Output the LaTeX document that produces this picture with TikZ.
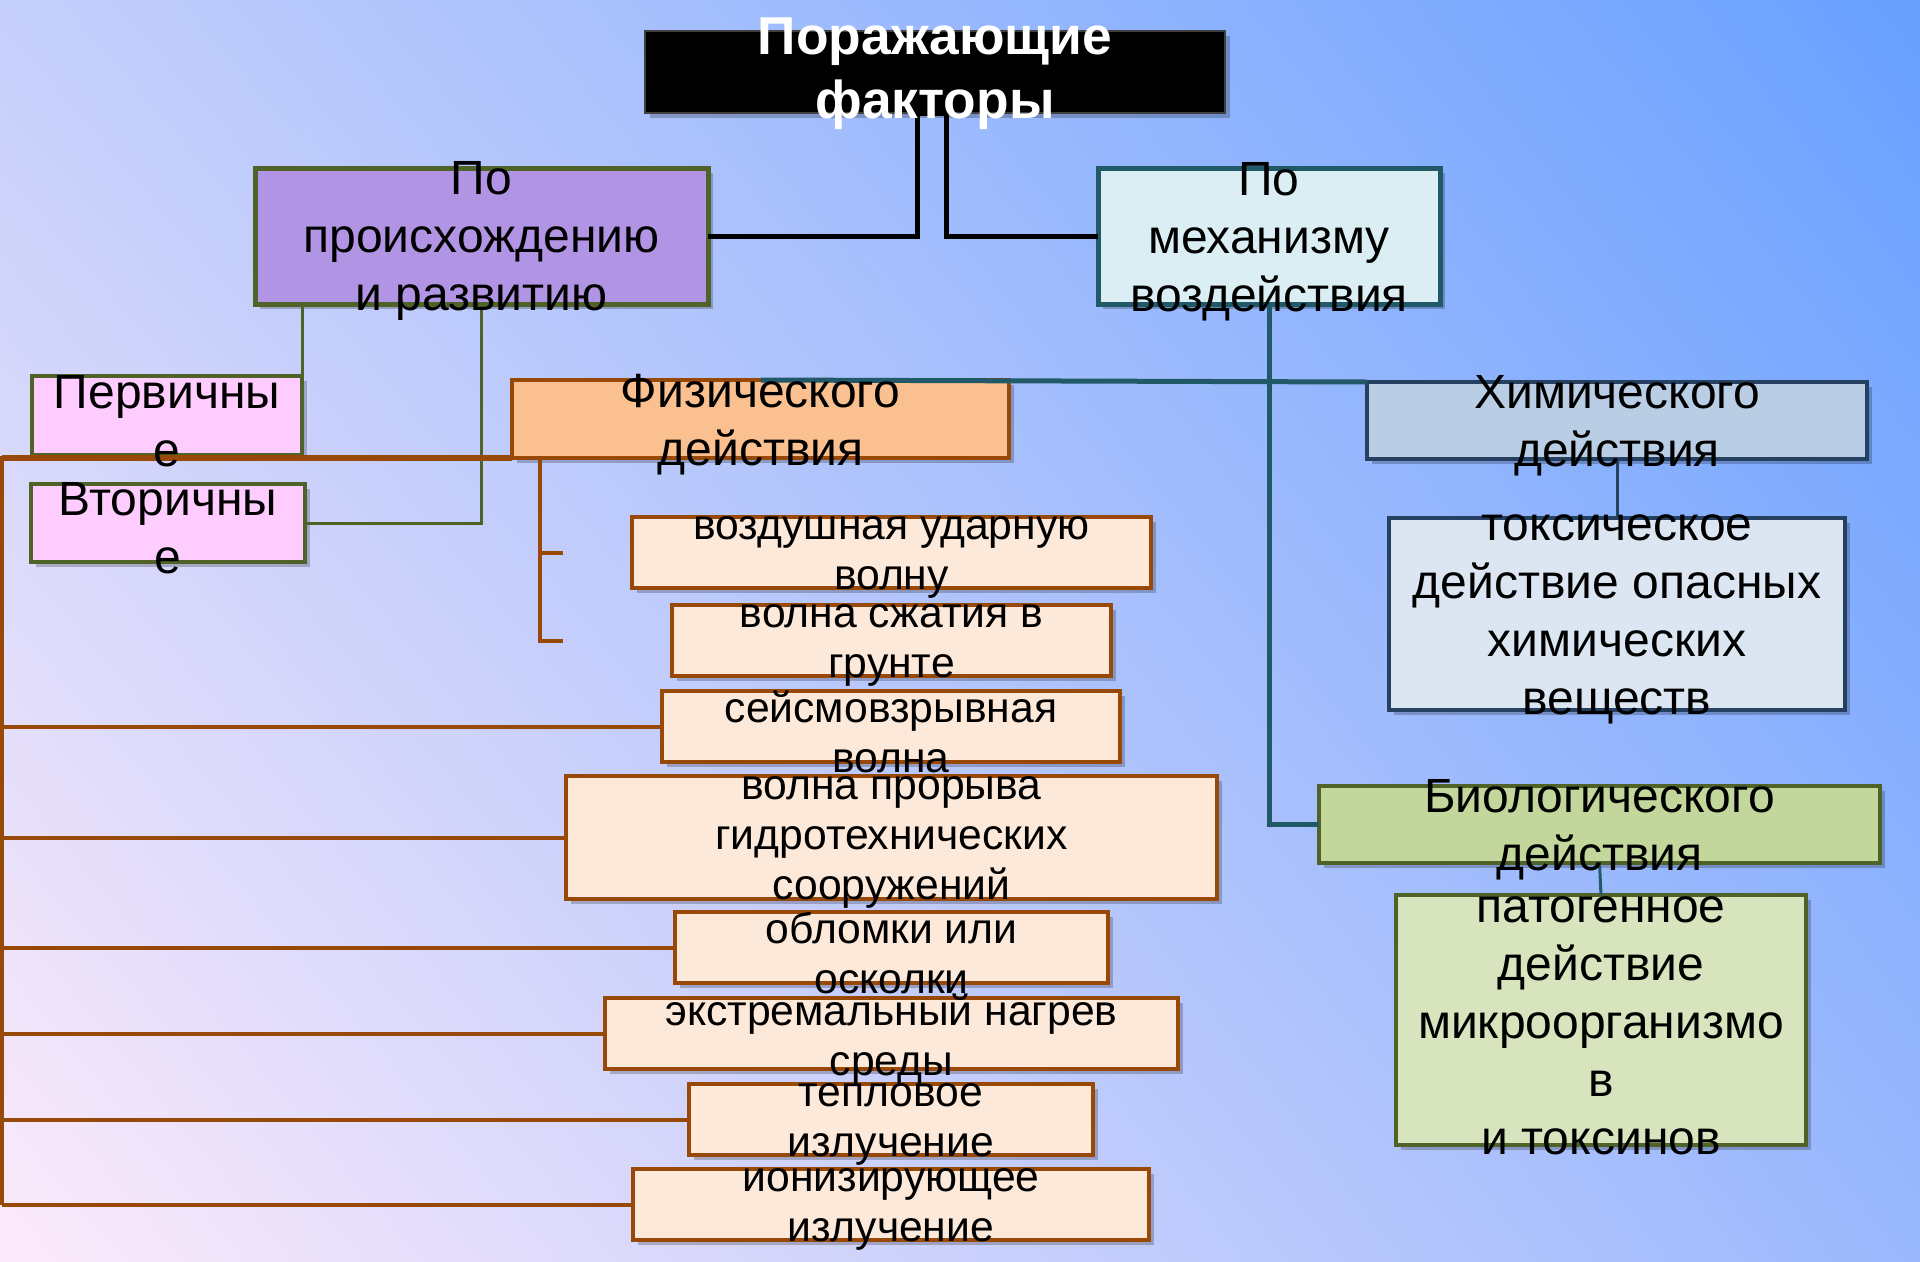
\documentclass[tikz,border=0pt]{standalone}
\usepackage{fontspec}
\setmainfont{Liberation Sans}
\usetikzlibrary{shadows,shadings}

\definecolor{bgul}{HTML}{C5CFFB}
\definecolor{bgur}{HTML}{68A0FF}
\definecolor{bgll}{HTML}{FCEAFA}
\definecolor{bglr}{HTML}{9AB8FD}
\definecolor{oliveline}{HTML}{4F6228}
\definecolor{tealline}{HTML}{215968}
\definecolor{navyline}{HTML}{254061}
\definecolor{rustline}{HTML}{984807}
\definecolor{origfill}{HTML}{B195E4}
\definecolor{mechfill}{HTML}{DBEEF4}
\definecolor{kindfill}{HTML}{FFCCFF}
\definecolor{physfill}{HTML}{FAC090}
\definecolor{itemfill}{HTML}{FDE9D9}
\definecolor{chemfill}{HTML}{B9CDE5}
\definecolor{toxfill}{HTML}{DCE6F2}
\definecolor{biofill}{HTML}{C3D69B}
\definecolor{pathfill}{HTML}{D7E4BD}

\tikzset{
  entity/.style={draw, line width=3pt, inner sep=0pt, outer sep=0pt,
    drop shadow={shadow xshift=4pt, shadow yshift=-4pt, opacity=0.22, fill=black}},
  boxsize/.style 2 args={minimum width=#1*0.75pt, minimum height=#2*0.75pt},
  itembox/.style={entity, draw=rustline, fill=itemfill},
  headtext/.style={align=center, inner sep=0pt, text=white, yshift=-1pt, font=\bfseries\fontsize{40}{48}\selectfont},
  bigtext/.style={align=center, inner sep=0pt, yshift=-4pt, font=\fontsize{36}{43.5}\selectfont},
  smalltext/.style={align=center, inner sep=0pt, yshift=-4pt, font=\fontsize{32}{37.5}\selectfont},
  headline/.style={line width=3.75pt, black},
  greenline/.style={line width=2.25pt, oliveline},
  mechline/.style={line width=3.75pt, tealline},
  itemline/.style={line width=3pt, rustline},
}

\begin{document}
\begin{tikzpicture}[x=0.75pt, y=-0.75pt]

  % Background
  \useasboundingbox (0,0) rectangle (1920,1261);
  \shade[upper left=bgul, upper right=bgur, lower left=bgll, lower right=bglr]
    (0,0) rectangle (1920,1261);

  % Title entity
  \node[entity, fill=black, draw=black!75, line width=2pt, boxsize={580}{82}] (title) at (935,72) {};

  % Group entities
  \node[entity, draw=oliveline, line width=3.75pt, fill=origfill, boxsize={453}{136}] (orig) at (481.5,236) {};
  \node[entity, draw=tealline, line width=3.75pt, fill=mechfill, boxsize={342}{136}] (mech) at (1269,236) {};

  % By origin
  \node[entity, draw=oliveline, fill=kindfill, boxsize={270}{79}] (prim) at (167,415.5) {};
  \node[entity, draw=oliveline, fill=kindfill, boxsize={274}{78}] (sec) at (168,523) {};

  % By mechanism
  \node[entity, draw=rustline, fill=physfill, boxsize={497}{78}] (phys) at (760.5,419) {};
  \node[entity, draw=navyline, fill=chemfill, boxsize={500}{77}] (chem) at (1617,420.5) {};
  \node[entity, draw=navyline, fill=toxfill, boxsize={456}{192}] (toxic) at (1617,614) {};
  \node[entity, draw=oliveline, fill=biofill, boxsize={561}{77}] (bio) at (1599.5,824.5) {};
  \node[entity, draw=oliveline, fill=pathfill, boxsize={410}{250}] (patho) at (1601,1020) {};

  % Physical items
  \node[itembox, boxsize={519}{71}] (air) at (891.5,552.5) {};
  \node[itembox, boxsize={439}{71}] (ground) at (891.5,640.5) {};
  \node[itembox, boxsize={458}{71}] (seismo) at (891,726.5) {};
  \node[itembox, boxsize={651}{123}] (hydro) at (891.5,837.5) {};
  \node[itembox, boxsize={433}{71}] (debris) at (891.5,947.5) {};
  \node[itembox, boxsize={573}{71}] (heat) at (891.5,1033.5) {};
  \node[itembox, boxsize={404}{71}] (therm) at (891,1119.5) {};
  \node[itembox, boxsize={516}{71}] (ion) at (891,1204.5) {};

  % Connectors
  \coordinate (tl) at (917,113);
  \coordinate (tr) at (946,113);
  \draw[headline] (orig.east) -| (tl) -- (tr) |- (mech.west);

  \draw[greenline] (prim.north east) -- (prim.north east |- orig.south);
  \draw[greenline] (orig.south) |- (sec.east);

  \draw[mechline] (phys.north) -- (chem.north west);
  \draw[mechline] (mech.south) |- (bio.west);
  \draw[line width=2.25pt, navyline] (chem.south) -- (toxic.north);
  \draw[line width=2.25pt, tealline] (bio.south) -- (patho.north);

  \coordinate (rail) at (2,456);
  \draw[itemline, line width=4.5pt] (phys.south west) -- (phys.south west -| rail);
  \draw[itemline] (rail) -- (rail |- ion.west);
  \foreach \n in {seismo,hydro,debris,heat,therm,ion}
    \draw[itemline] (\n.west) -- (\n.west -| rail);

  \coordinate (stem) at (540,458);
  \coordinate (tickx) at (563,0);
  \draw[itemline] (stem) |- (ground.west -| tickx);
  \draw[itemline] (air.west -| stem) -- (air.west -| tickx);

  % Texts
  \node[headtext] (titletext) at (title) {Поражающие\\факторы};
  \node[bigtext] (origtext) at (orig) {По\\происхождению\\и развитию};
  \node[bigtext] (mechtext) at (mech) {По\\механизму\\воздействия};
  \node[bigtext] (primtext) at (prim) {Первичны\\е};
  \node[bigtext] (sectext) at (sec) {Вторичны\\е};
  \node[bigtext] (phystext) at (phys) {Физического\\действия};
  \node[bigtext] (chemtext) at (chem) {Химического\\действия};
  \node[bigtext] (toxictext) at (toxic) {токсическое\\действие опасных\\химических\\веществ};
  \node[bigtext] (biotext) at (bio) {Биологического\\действия};
  \node[bigtext] (pathotext) at (patho) {патогенное\\действие\\микроорганизмо\\в\\и токсинов};

  \node[smalltext] (airtext) at (air) {воздушная ударную\\волну};
  \node[smalltext] (groundtext) at (ground) {волна сжатия в\\грунте};
  \node[smalltext] (seismotext) at (seismo) {сейсмовзрывная\\волна};
  \node[smalltext] (hydrotext) at (hydro) {волна прорыва\\гидротехнических\\сооружений};
  \node[smalltext] (debristext) at (debris) {обломки или\\осколки};
  \node[smalltext] (heattext) at (heat) {экстремальный нагрев\\среды};
  \node[smalltext] (thermtext) at (therm) {тепловое\\излучение};
  \node[smalltext] (iontext) at (ion) {ионизирующее\\излучение};

\end{tikzpicture}
\end{document}
